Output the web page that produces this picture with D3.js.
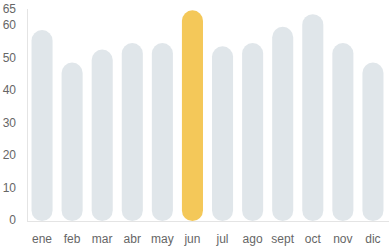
<!DOCTYPE html>
<html>
<head>
<meta charset="utf-8">
<script src="https://cdn.jsdelivr.net/npm/d3@7"></script>
<style>
  body { margin: 0; background: #fff; }
  svg text { font-family: "Liberation Sans", Arial, sans-serif; font-size: 12px; fill: #666; }
</style>
</head>
<body>
<div id="chart"></div>
<script>
// meses y valores
const months = ["ene", "feb", "mar", "abr", "may", "jun", "jul", "ago", "sept", "oct", "nov", "dic"];
const values = [58.5, 48.5, 52.5, 54.5, 54.5, 64.6, 53.5, 54.5, 59.5, 63.4, 54.5, 48.5];
const highlightMonth = "jun";
const yTicks = [0, 10, 20, 30, 40, 50, 60, 65];

const width = 389, height = 250;
const margin = { top: 9, right: 1, bottom: 29, left: 27 };

const svg = d3.select("#chart")
    .append("svg")
    .attr("width", width)
    .attr("height", height);

const x = d3.scaleBand()
    .domain(months)
    .range([margin.left, width - margin.right])
    .paddingInner(0.3)
    .paddingOuter(0.15);

const y = d3.scaleLinear()
    .domain([0, 65])
    .range([height - margin.bottom - 1, margin.top]);

// ejes
svg.append("line")
    .attr("x1", margin.left + 0.5).attr("x2", margin.left + 0.5)
    .attr("y1", y(65)).attr("y2", y(0) + 1)
    .attr("stroke", "#e4e4e4");

svg.append("line")
    .attr("x1", margin.left).attr("x2", width)
    .attr("y1", y(0) + 1.5).attr("y2", y(0) + 1.5)
    .attr("stroke", "#e4e4e4");

svg.selectAll(".ytick")
    .data(yTicks)
    .enter()
    .append("text")
    .attr("class", "ytick")
    .attr("x", 16)
    .attr("y", d => y(d))
    .attr("dy", "0.35em")
    .attr("text-anchor", "end")
    .text(d => d);

svg.selectAll(".xtick")
    .data(months)
    .enter()
    .append("text")
    .attr("class", "xtick")
    .attr("x", d => x(d) + x.bandwidth() / 2)
    .attr("y", 239)
    .attr("dy", "0.35em")
    .attr("text-anchor", "middle")
    .text(d => d);

// barras redondeadas
svg.selectAll(".bar")
    .data(months)
    .enter()
    .append("rect")
    .attr("class", "bar")
    .attr("x", d => x(d))
    .attr("y", (d, i) => y(values[i]))
    .attr("width", x.bandwidth())
    .attr("height", (d, i) => y(0) + 1 - y(values[i]))
    .attr("rx", x.bandwidth() / 2)
    .attr("fill", d => d === highlightMonth ? "#f4c859" : "#e0e6ea");
</script>
</body>
</html>
